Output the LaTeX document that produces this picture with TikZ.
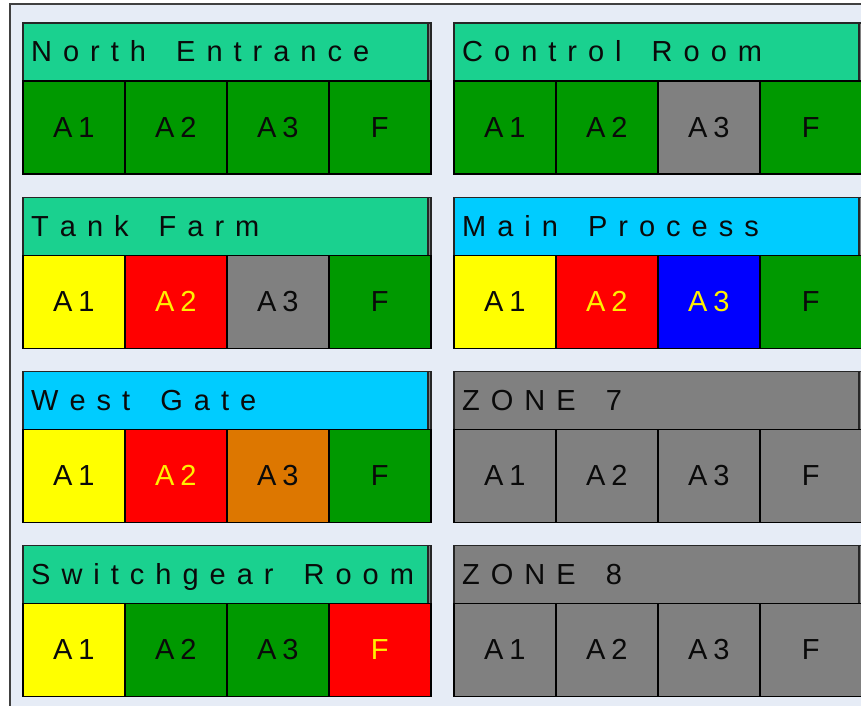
\documentclass[tikz,border=0pt]{standalone}
\usepackage{fontspec}
\setmainfont{Liberation Sans}
\definecolor{bgblue}{RGB}{230,236,246}
\definecolor{hgreen}{RGB}{26,209,143}
\definecolor{hcyan}{RGB}{0,204,255}
\definecolor{cgreen}{RGB}{0,153,0}
\definecolor{cgray}{RGB}{128,128,128}
\definecolor{cyellow}{RGB}{255,255,0}
\definecolor{cred}{RGB}{255,0,0}
\definecolor{cblue}{RGB}{0,0,255}
\definecolor{corange}{RGB}{221,119,0}
\definecolor{tyellow}{RGB}{255,240,0}
\definecolor{tdark}{RGB}{10,10,10}
\newdimen\lsp
\lsp=11pt
\def\spaced#1{\spacedi#1\relax}
\def\spacedi#1{\ifx#1\relax\else#1\kern\lsp\expandafter\spacedi\fi}
\tikzset{
  panelbox/.style={draw=black!85, line width=1.5pt, fill=cgray, inner sep=0pt,
    minimum width=408pt, minimum height=151pt, anchor=north west},
  hdrbox/.style={draw=black!85, line width=1.5pt, inner sep=0pt,
    minimum width=405pt, minimum height=58pt, anchor=north west},
  htext/.style={inner sep=0pt, anchor=base west, text=tdark,
    font=\fontsize{29}{34}\selectfont},
  cellbox/.style={draw=black, line width=1.6pt, inner sep=0pt,
    minimum width=102pt, minimum height=93pt, anchor=north west,
    font=\fontsize{29}{34}\selectfont}
}
\begin{document}
\begin{tikzpicture}[x=1pt,y=-1pt]
\useasboundingbox (0,0) rectangle (861,705);
\draw[draw=black!75, line width=1.3pt, fill=bgblue] (10,4) rectangle (885,725);
\foreach \nm/\x/\y/\hc/\ttl/\fA/\tA/\fB/\tB/\fC/\tC/\fD/\tD in {
  north/22/22/hgreen/North~Entrance/cgreen/tdark/cgreen/tdark/cgreen/tdark/cgreen/tdark,
  control/453/22/hgreen/Control~Room/cgreen/tdark/cgreen/tdark/cgray/tdark/cgreen/tdark,
  tank/22/196.5/hgreen/Tank~Farm/cyellow/tdark/cred/tyellow/cgray/tdark/cgreen/tdark,
  main/453/196.5/hcyan/Main~Process/cyellow/tdark/cred/tyellow/cblue/tyellow/cgreen/tdark,
  west/22/370.5/hcyan/West~Gate/cyellow/tdark/cred/tyellow/corange/tdark/cgreen/tdark,
  zone7/453/370.5/cgray/ZONE~7/cgray/tdark/cgray/tdark/cgray/tdark/cgray/tdark,
  switch/22/544.5/hgreen/Switchgear~Room/cyellow/tdark/cgreen/tdark/cgreen/tdark/cred/tyellow,
  zone8/453/544.5/cgray/ZONE~8/cgray/tdark/cgray/tdark/cgray/tdark/cgray/tdark}
{
  \node[panelbox] (\nm) at (\x,\y) {};
  \node[hdrbox, fill=\hc] (\nm-h) at (\x,\y) {};
  \node[htext] (\nm-t) at (\x+9,\y+39.5) {\expandafter\spaced\expandafter{\ttl}};
  \node[cellbox, fill=\fA, text=\tA] (\nm-1) at (\x,\y+58) {A\kern6pt1};
  \node[cellbox, fill=\fB, text=\tB] (\nm-2) at (\x+102,\y+58) {A\kern6pt2};
  \node[cellbox, fill=\fC, text=\tC] (\nm-3) at (\x+204,\y+58) {A\kern6pt3};
  \node[cellbox, fill=\fD, text=\tD] (\nm-4) at (\x+306,\y+58) {F};
}
\end{tikzpicture}
\end{document}
